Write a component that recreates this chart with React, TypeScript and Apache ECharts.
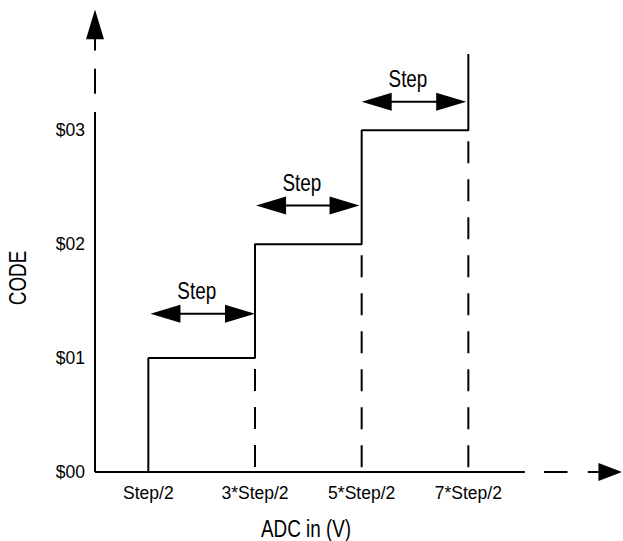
import React, { useEffect, useRef } from "react";
import * as echarts from "echarts";

// Tick positions (in units of Step on x, code on y) and their labels
const xTickValues = [0.5, 1.5, 2.5, 3.5];
const xTickLabels = ["Step/2", "3*Step/2", "5*Step/2", "7*Step/2"];
const yTickValues = [0, 1, 2, 3];
const yTickLabels = ["$00", "$01", "$02", "$03"];

// Staircase transfer function
const stairX = [0.5, 0.5, 1.5, 1.5, 2.5, 2.5, 3.5, 3.5];
const stairY = [0, 1, 1, 2, 2, 3, 3, 3.67];

// Dashed guides from the x axis up to each code level
const guideX = [1.5, 2.5, 3.5];
const guideTop = [1, 2, 3];

// "Step" double arrows
const stepArrowFrom = [0.52, 1.51, 2.5];
const stepArrowTo = [1.5, 2.48, 3.48];
const stepArrowY = [1.39, 2.34, 3.25];
const stepLabels = ["Step", "Step", "Step"];

// Axis line pieces: solid part, dashes, arrow stem, arrow tip
const xAxisPieces = [
  [0, 4.03],
  [4.21, 4.43],
  [4.62, 4.72],
];
const xAxisArrow = [4.72, 4.94];
const yAxisPieces = [
  [0, 3.16],
  [3.32, 3.54],
  [3.7, 3.81],
];
const yAxisArrow = [3.8, 4.06];

const xAxisName = "ADC in (V)";
const yAxisName = "CODE";

export default function App() {
  const ref = useRef<HTMLDivElement>(null);

  useEffect(() => {
    document.body.style.margin = "0";
    const chart = echarts.init(ref.current!, null, { renderer: "svg" });
    const FONT = '"Liberation Sans", Arial, Helvetica, sans-serif';
    const INK = "#000";
    const NARROW = 0.82;

    const near = (a: number, b: number) => Math.abs(a - b) < 1e-6;

    // segment data [x1, y1, x2, y2, dashed]
    const segments: number[][] = [];
    xAxisPieces.forEach(([a, b]) => segments.push([a, 0, b, 0, 0]));
    yAxisPieces.forEach(([a, b]) => segments.push([0, a, 0, b, 0]));
    guideX.forEach((gx, i) => segments.push([gx, guideTop[i], gx, 0, 1]));

    // arrow heads [baseX, baseY, tipX, tipY]
    const heads: number[][] = [
      [xAxisArrow[0], 0, xAxisArrow[1], 0],
      [0, yAxisArrow[0], 0, yAxisArrow[1]],
    ];

    const stepData = stepArrowFrom.map((f, i) => [f, stepArrowTo[i], stepArrowY[i]]);

    const headPoly = (tip: number[], dir: number[], len: number, wid: number) => {
      const nx = -dir[1];
      const ny = dir[0];
      const bx = tip[0] - dir[0] * len;
      const by = tip[1] - dir[1] * len;
      return [
        [tip[0], tip[1]],
        [bx + (nx * wid) / 2, by + (ny * wid) / 2],
        [bx - (nx * wid) / 2, by - (ny * wid) / 2],
      ];
    };

    chart.setOption({
      animation: false,
      backgroundColor: "#fff",
      grid: { left: 95, right: 0, top: 5, bottom: 69, outerBoundsMode: "none" },
      xAxis: {
        type: "value",
        min: 0,
        max: 4.95,
        interval: 0.5,
        axisLine: { show: false },
        axisTick: { show: false },
        splitLine: { show: false },
        axisLabel: {
          showMinLabel: true,
          showMaxLabel: false,
          margin: 12,
          color: INK,
          fontFamily: FONT,
          fontSize: 17.5,
          formatter: (v: number) => {
            const i = xTickValues.findIndex((t) => near(t, v));
            return i >= 0 ? xTickLabels[i] : "";
          },
        },
      },
      yAxis: {
        type: "value",
        min: 0,
        max: 4.1,
        interval: 1,
        axisLine: { show: false },
        axisTick: { show: false },
        splitLine: { show: false },
        axisLabel: {
          margin: 10,
          color: INK,
          fontFamily: FONT,
          fontSize: 17.5,
          formatter: (v: number) => {
            const i = yTickValues.findIndex((t) => near(t, v));
            return i >= 0 ? yTickLabels[i] : "";
          },
        },
      },
      graphic: [
        {
          type: "text",
          x: 306,
          y: 529,
          scaleX: NARROW,
          style: {
            text: xAxisName,
            fill: INK,
            font: `23px ${FONT}`,
            textAlign: "center",
            textVerticalAlign: "middle",
          },
        },
        {
          type: "text",
          x: 18,
          y: 278,
          rotation: Math.PI / 2,
          scaleX: NARROW,
          style: {
            text: yAxisName,
            fill: INK,
            font: `23px ${FONT}`,
            textAlign: "center",
            textVerticalAlign: "middle",
          },
        },
      ],
      series: [
        {
          type: "line",
          name: "transfer",
          data: stairX.map((x, i) => [x, stairY[i]]),
          symbol: "none",
          lineStyle: { color: INK, width: 2 },
          z: 3,
        },
        {
          type: "custom",
          name: "segments",
          clip: false,
          data: segments,
          renderItem: (params: any, api: any) => {
            const p1 = api.coord([api.value(0), api.value(1)]);
            const p2 = api.coord([api.value(2), api.value(3)]);
            const dashed = api.value(4) === 1;
            return {
              type: "line",
              shape: { x1: p1[0], y1: p1[1], x2: p2[0], y2: p2[1] },
              style: {
                stroke: INK,
                lineWidth: 2,
                lineDash: dashed ? [22, 16] : null,
                lineDashOffset: dashed ? 27 : 0,
              },
            };
          },
          z: 2,
        },
        {
          type: "custom",
          name: "axisArrows",
          clip: false,
          data: heads,
          renderItem: (params: any, api: any) => {
            const b = api.coord([api.value(0), api.value(1)]);
            const t = api.coord([api.value(2), api.value(3)]);
            const dx = t[0] - b[0];
            const dy = t[1] - b[1];
            const len = Math.hypot(dx, dy);
            const dir = [dx / len, dy / len];
            return {
              type: "polygon",
              shape: { points: headPoly(t, dir, len, 18) },
              style: { fill: INK },
            };
          },
          z: 4,
        },
        {
          type: "custom",
          name: "stepArrows",
          clip: false,
          data: stepData,
          renderItem: (params: any, api: any) => {
            const a = api.coord([api.value(0), api.value(2)]);
            const b = api.coord([api.value(1), api.value(2)]);
            const L = 30;
            const W = 18;
            const label = stepLabels[params.dataIndex];
            return {
              type: "group",
              children: [
                {
                  type: "line",
                  shape: { x1: a[0] + L - 2, y1: a[1], x2: b[0] - L + 2, y2: b[1] },
                  style: { stroke: INK, lineWidth: 2 },
                },
                {
                  type: "polygon",
                  shape: { points: headPoly(a, [-1, 0], L, W) },
                  style: { fill: INK },
                },
                {
                  type: "polygon",
                  shape: { points: headPoly(b, [1, 0], L, W) },
                  style: { fill: INK },
                },
                {
                  type: "text",
                  x: (a[0] + b[0]) / 2 - 6,
                  y: a[1] - 23,
                  scaleX: NARROW,
                  style: {
                    text: label,
                    fill: INK,
                    font: `23px ${FONT}`,
                    textAlign: "center",
                    textVerticalAlign: "middle",
                  },
                },
              ],
            };
          },
          z: 4,
        },
      ],
    });

    return () => chart.dispose();
  }, []);

  return <div ref={ref} style={{ width: 623, height: 541 }} />;
}
